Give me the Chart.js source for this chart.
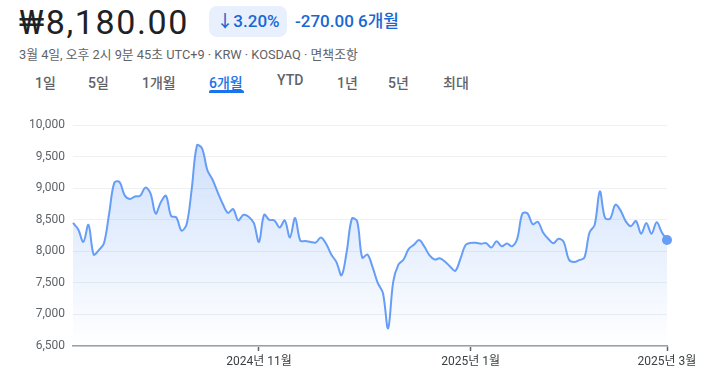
<!DOCTYPE html>
<html lang="ko">
<head>
<meta charset="utf-8">
<script src="https://cdn.jsdelivr.net/npm/chart.js@4"></script>
<style>
  html, body { margin: 0; padding: 0; background: #fff; }
  body { width: 714px; height: 382px; position: relative; overflow: hidden;
         font-family: Roboto, "Noto Sans CJK KR", sans-serif; }
  .abs { position: absolute; white-space: nowrap; }
  #price { left: 19px; top: 2px; font-size: 34px; color: #202124; letter-spacing: 1.6px; }
  #badge { left: 209px; top: 6px; width: 78px; height: 31px; border-radius: 8px;
           background: #e8f0fe; color: #1967d2; font-size: 17px; line-height: 31px;
           text-align: center; font-weight: 500; }
  #change { left: 295px; top: 6px; line-height: 31px; font-size: 17px; color: #1967d2; font-weight: 500; }
  #sub { left: 19px; top: 44px; font-size: 12.8px; color: #5f6368; }
  .tab { top: 72px; font-size: 14px; color: #5f6368; font-weight: 500; }
  .tab.on { color: #1a73e8; }
  #underline { left: 209px; top: 90px; width: 35px; height: 3px; background: #1a73e8; border-radius: 2px 2px 0 0; }
  #wrap { position: absolute; left: 0; top: 110px; width: 714px; height: 272px; }
</style>
</head>
<body>
<div id="price" class="abs">₩8,180.00</div>
<div id="badge" class="abs">↓3.20%</div>
<div id="change" class="abs">-270.00 6개월</div>
<div id="sub" class="abs">3월 4일, 오후 2시 9분 45초 UTC+9 · KRW · KOSDAQ · 면책조항</div>
<div id="tabs"></div>
<div id="underline" class="abs"></div>
<div id="wrap"><canvas id="chart"></canvas></div>
<script>
// period tabs
const tabNames = ['1일', '5일', '1개월', '6개월', 'YTD', '1년', '5년', '최대'];
const tabX = [35, 88, 142, 209, 277, 337, 388, 443];

// daily closes, Sep 4 2024 .. Mar 4 2025 (trading days)
const prices = [
  8450, 8350, 8150, 8420, 7950, 8020, 8130, 8600, 9090, 9100,
  8890, 8830, 8870, 8880, 9010, 8920, 8600, 8780, 8880, 8560,
  8540, 8330, 8430, 9000, 9680, 9630, 9290, 9140, 8940, 8750,
  8610, 8670, 8490, 8580, 8550, 8450, 8150, 8580, 8500, 8490,
  8380, 8490, 8220, 8530, 8170, 8165, 8150, 8140, 8220, 8120,
  7950, 7830, 7620, 8000, 8520, 8480, 7900, 7950, 7750, 7500,
  7340, 6780, 7520, 7790, 7870, 8040, 8105, 8180, 8080, 7940,
  7870, 7890, 7840, 7760, 7690, 7880, 8100, 8135, 8135, 8120,
  8130, 8060, 8160, 8080, 8125, 8080, 8200, 8600, 8600, 8430,
  8470, 8300, 8200, 8130, 8200, 8150, 7870, 7830, 7860, 7900,
  8300, 8420, 8950, 8530, 8520, 8740, 8650, 8480, 8400, 8480,
  8280, 8450, 8280, 8460, 8300, 8180
];

// x-axis ticks: trading-day index -> label
const tickPositions = [36, 77, 115];
const tickLabels = ['2024년 11월', '2025년 1월', '2025년 3월'];

const yTicks = [6500, 7000, 7500, 8000, 8500, 9000, 9500, 10000];

const tabsEl = document.getElementById('tabs');
tabNames.forEach((name, i) => {
  const d = document.createElement('div');
  d.className = 'abs tab' + (name === '6개월' ? ' on' : '');
  d.style.left = tabX[i] + 'px';
  d.textContent = name;
  tabsEl.appendChild(d);
});

const lineColor = '#669df6';
const labels = prices.map((_, i) => i);

const ctx = document.getElementById('chart');
new Chart(ctx, {
  type: 'line',
  data: {
    labels: labels,
    datasets: [{
      data: prices,
      borderColor: lineColor,
      borderWidth: 2,
      tension: 0.35,
      clip: false,
      pointRadius: prices.map((_, i) => i === prices.length - 1 ? 5 : 0),
      pointBackgroundColor: lineColor,
      pointBorderWidth: 0,
      fill: 'start',
      backgroundColor: (c) => {
        const area = c.chart.chartArea;
        if (!area) return 'rgba(102,157,246,0.2)';
        const g = c.chart.ctx.createLinearGradient(0, area.top, 0, area.bottom);
        g.addColorStop(0, 'rgba(102,157,246,0.34)');
        g.addColorStop(1, 'rgba(102,157,246,0.0)');
        return g;
      }
    }]
  },
  options: {
    responsive: true,
    maintainAspectRatio: false,
    animation: false,
    layout: { padding: { top: 12, right: 47, left: 0, bottom: 0 } },
    plugins: { legend: { display: false }, tooltip: { enabled: false } },
    scales: {
      x: {
        type: 'linear',
        min: 0,
        max: prices.length - 1,
        afterBuildTicks: (scale) => { scale.ticks = tickPositions.map(v => ({ value: v })); },
        afterFit: (scale) => { scale.height = 36; },
        grid: { drawOnChartArea: false, drawTicks: true, tickLength: 5, color: '#5f6368', tickWidth: 1.5 },
        border: { display: true, color: '#9aa0a6', width: 1.5 },
        ticks: {
          autoSkip: false,
          maxRotation: 0,
          padding: 4,
          color: '#3c4043',
          font: { family: 'Roboto, "Noto Sans CJK KR"', size: 12 },
          callback: (v) => tickLabels[tickPositions.indexOf(v)]
        }
      },
      y: {
        min: 6500,
        max: 10000,
        afterBuildTicks: (scale) => { scale.ticks = yTicks.map(v => ({ value: v })); },
        afterFit: (scale) => { scale.width = 73; },
        grid: { color: '#eef0f2', drawTicks: false, lineWidth: 1 },
        border: { display: false },
        ticks: {
          padding: 8,
          color: '#5f6368',
          font: { family: 'Roboto', size: 12 },
          callback: (v) => v.toLocaleString('en-US')
        }
      }
    }
  }
});
</script>
</body>
</html>
